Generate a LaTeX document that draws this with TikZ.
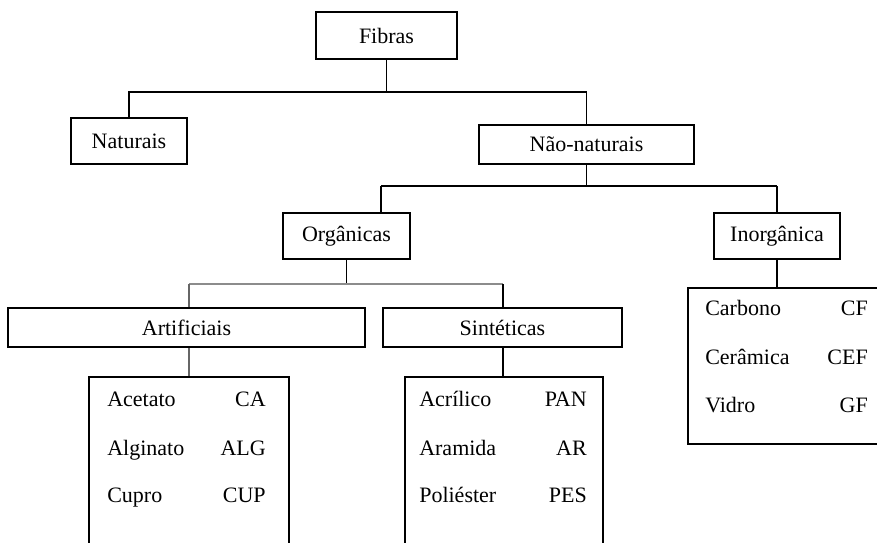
\documentclass[tikz,border=0pt]{standalone}
\usepackage{fontspec}
\setmainfont{Liberation Serif}

\begin{document}
\begin{tikzpicture}[x=0.75pt,y=-0.75pt,font=\fontsize{16.5}{19}\selectfont,
caixa/.style={draw,line width=1.4pt,inner sep=0pt},
lista/.style={draw,line width=1.1pt,inner sep=0pt},
liga/.style={line width=1.1pt},
item/.style={inner sep=0pt}]
\useasboundingbox (0,0) rectangle (877,542);
\clip (0,0) rectangle (877,542);
\node[caixa,minimum width=105.75pt,minimum height=35.25pt] (fibras) at (386.5,35.5) {Fibras};
\node[caixa,minimum width=87pt,minimum height=34.5pt] (naturais) at (129,141) {Naturais};
\node[caixa,minimum width=161.25pt,minimum height=29.25pt] (nao) at (586.5,144.5) {Não-naturais};
\node[caixa,minimum width=95.25pt,minimum height=34.5pt] (organicas) at (346.5,236) {Orgânicas};
\node[caixa,minimum width=94.5pt,minimum height=34.5pt] (inorg) at (777,236) {Inorgânica};
\node[caixa,minimum width=267.75pt,minimum height=29.25pt] (artificiais) at (186.5,327.5) {Artificiais};
\node[caixa,minimum width=179.25pt,minimum height=29.25pt] (sinteticas) at (502.5,327.5) {Sintéticas};
\node[lista,minimum width=150pt,minimum height=167.25pt] (artlista) at (189,488.5) {};
\node[lista,minimum width=148.5pt,minimum height=167.25pt] (sinlista) at (504,488.5) {};
\node[lista,minimum width=159pt,minimum height=117pt] (inolista) at (794,366) {};

\node[item,anchor=mid west] (acetato) at (107,403) {Acetato};
\node[item,anchor=mid east] (ca) at (266,403) {CA};
\node[item,anchor=mid west] (alginato) at (107,452) {Alginato};
\node[item,anchor=mid east] (alg) at (266,452) {ALG};
\node[item,anchor=mid west] (cupro) at (107,499) {Cupro};
\node[item,anchor=mid east] (cup) at (266,499) {CUP};
\node[item,anchor=mid west] (acrilico) at (419,403) {Acrílico};
\node[item,anchor=mid east] (pan) at (587,403) {PAN};
\node[item,anchor=mid west] (aramida) at (419,452) {Aramida};
\node[item,anchor=mid east] (ar) at (587,452) {AR};
\node[item,anchor=mid west] (poliester) at (419,499) {Poliéster};
\node[item,anchor=mid east] (pes) at (587,499) {PES};
\node[item,anchor=mid west] (carbono) at (705,312) {Carbono};
\node[item,anchor=mid east] (cf) at (868,312) {CF};
\node[item,anchor=mid west] (ceramica) at (705,361) {Cerâmica};
\node[item,anchor=mid east] (cef) at (868,361) {CEF};
\node[item,anchor=mid west] (vidro) at (705,409) {Vidro};
\node[item,anchor=mid east] (gf) at (868,409) {GF};

\coordinate (b1) at (386.5,92);
\coordinate (b2) at (586.5,186);
\coordinate (b2l) at (381,186);
\coordinate (b2r) at (777,186);
\coordinate (b3) at (346.5,284);
\coordinate (b3l) at (189,284);
\coordinate (b3r) at (503,284);
\draw[liga] (fibras) -- (b1) -| (naturais);
\draw[liga] (b1) -| (nao);
\draw[liga] (nao) -- (b2);
\draw[liga] (b2l) -- (b2r);
\draw[liga] (b2l) -- (b2l |- organicas.north);
\draw[liga] (b2r) -- (inorg);
\draw[liga] (inorg.south) -- (inorg.south |- inolista.north);
\draw[liga] (organicas) -- (b3);
\draw[line width=1pt,black!45] (b3l) -- (b3r);
\draw[line width=1pt,black!60] (b3l) -- (b3l |- artificiais.north);
\draw[liga] (b3r) -- (b3r |- sinteticas.north);
\draw[line width=1pt,black!60] (artificiais.south -| b3l) -- (b3l |- artlista.north);
\draw[liga] (sinteticas.south -| b3r) -- (b3r |- sinlista.north);
\end{tikzpicture}
\end{document}
